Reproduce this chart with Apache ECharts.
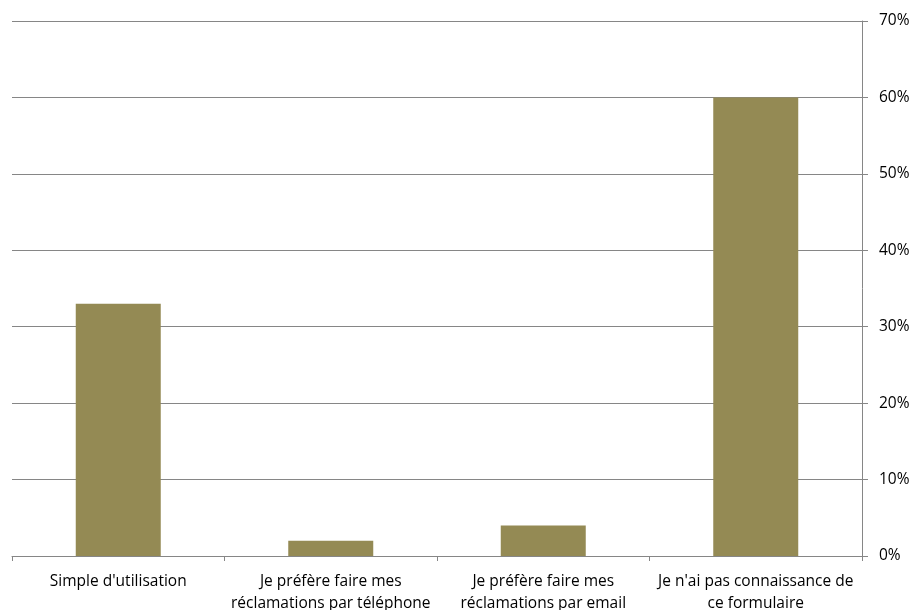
<!DOCTYPE html>
<html>
<head>
<meta charset="utf-8">
<script src="https://cdn.jsdelivr.net/npm/echarts@6/dist/echarts.min.js"></script>
<style>
  html, body { margin: 0; padding: 0; background: #fff; }
  #chart { width: 917px; height: 610px; }
</style>
</head>
<body>
<div id="chart"></div>
<script>
// catégories (avec retour à la ligne comme dans le graphique)
var categories = [
    "Simple d'utilisation",
    "Je préfère faire mes\nréclamations par téléphone",
    "Je préfère faire mes\nréclamations par email",
    "Je n'ai pas connaissance de\nce formulaire"
];
var values = [33, 2, 4, 60]; // en %
var yTicks = [0, 10, 20, 30, 40, 50, 60, 70];

var chart = echarts.init(document.getElementById('chart'));

var option = {
    animation: false,
    backgroundColor: '#fff',
    grid: {left: 12, right: 55, top: 21, bottom: 54, outerBoundsMode: 'none'},
    xAxis: {
        type: 'category',
        data: categories,
        axisLine: {show: true, lineStyle: {color: '#868686', width: 1}},
        axisTick: {show: true, length: 5, lineStyle: {color: '#868686'}},
        axisLabel: {
            color: '#000',
            fontSize: 15.5,
            fontFamily: 'Open Sans',
            lineHeight: 22,
            margin: 15,
            interval: 0
        }
    },
    yAxis: {
        type: 'value',
        position: 'right',
        min: yTicks[0],
        max: yTicks[yTicks.length - 1],
        interval: 10,
        axisLine: {show: true, lineStyle: {color: '#868686', width: 1}},
        axisTick: {show: true, length: 6, lineStyle: {color: '#868686'}},
        axisLabel: {
            color: '#000',
            fontSize: 15.5,
            fontFamily: 'Open Sans',
            margin: 17,
            formatter: '{value}%'
        },
        splitLine: {show: true, lineStyle: {color: '#868686', width: 1}}
    },
    series: [{
        type: 'bar',
        data: values,
        barWidth: '40%',
        itemStyle: {color: '#948A54'}
    }]
};

chart.setOption(option);
</script>
</body>
</html>
